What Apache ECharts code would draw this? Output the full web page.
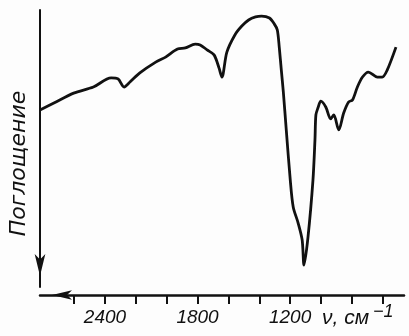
<!DOCTYPE html>
<html>
  <head>
    <meta charset="utf-8" />
    <title>Поглощение</title>
    <script src="https://cdn.jsdelivr.net/npm/echarts@6/dist/echarts.min.js"></script>
    <style>
      body {
        margin: 0;
        background: #fdfdfd;
      }
      #main {
        width: 409px;
        height: 336px;
      }
    </style>
  </head>
  <body>
    <div id="main"></div>
    <script type="text/javascript">
      // волновое число, см-1 (ось идёт справа налево)
      var wavenumber = [
        2821, 2731, 2603, 2475, 2360, 2315, 2276, 2238, 2174, 2071, 2007, 1930,
        1879, 1815, 1783, 1738, 1693, 1661, 1642, 1610, 1558, 1513, 1469, 1424,
        1385, 1334, 1302, 1283, 1270, 1257, 1244, 1225, 1199, 1180, 1148, 1122,
        1110, 1084, 1052, 1039, 1033, 1020, 1001, 969, 937, 917, 885, 853, 821,
        796, 764, 731, 693, 635, 603, 571, 514,
      ];
      // поглощение, усл. ед. (растёт вниз)
      var absorption = [
        36.1, 33.6, 30.0, 27.8, 24.5, 24.9, 27.8, 26.0, 22.7, 18.8, 17.0, 14.1,
        13.7, 12.3, 12.6, 14.4, 16.2, 20.9, 24.2, 15.2, 9.0, 5.8, 3.6, 2.5, 2.2,
        2.9, 5.1, 7.2, 13.7, 21.7, 29.6, 43.3, 61.4, 71.1, 76.9, 83.0, 92.1,
        81.9, 61.4, 46.9, 37.9, 35.4, 32.9, 35.0, 39.3, 37.9, 43.3, 37.2, 33.2,
        32.5, 27.8, 24.2, 22.4, 24.2, 24.2, 21.7, 13.4,
      ];
      var tickValues = [2600, 2400, 2200, 2000, 1800, 1600, 1400, 1200, 1000, 800, 600];
      var labelValues = [2400, 1800, 1200];

      var points = wavenumber.map(function (v, i) {
        return [v, absorption[i]];
      });

      var ink = "#111";
      var myChart = echarts.init(document.getElementById("main"));

      option = {
        backgroundColor: "#fdfdfd",
        animation: false,
        grid: { left: 36, right: 5, top: 10, bottom: 49 },
        xAxis: {
          type: "value",
          position: "bottom",
          inverse: true,
          min: 462,
          max: 2821,
          offset: 8,
          splitLine: { show: false },
          axisLine: {
            onZero: false,
            lineStyle: { color: ink, width: 2.5 },
            symbol: ["arrow", "none"],
            symbolSize: [7, 20],
            symbolOffset: [12, 0],
          },
          axisTick: {
            customValues: tickValues,
            length: 9,
            lineStyle: { color: ink, width: 2 },
          },
          axisLabel: {
            customValues: labelValues,
            formatter: function (v) {
              return String(v);
            },
            margin: 13,
            color: ink,
            fontSize: 19,
            fontStyle: "italic",
            fontFamily: "Liberation Sans",
          },
        },
        yAxis: {
          type: "value",
          inverse: true,
          min: 0,
          max: 100,
          name: "Поглощение",
          nameLocation: "middle",
          nameGap: 10,
          nameTextStyle: {
            color: ink,
            fontSize: 22,
            fontStyle: "italic",
            fontFamily: "DejaVu Sans",
            padding: [0, 30, 0, 0],
          },
          splitLine: { show: false },
          axisTick: { show: false },
          axisLabel: { show: false },
          axisLine: {
            lineStyle: { color: ink, width: 2 },
            symbol: ["arrow", "none"],
            symbolSize: [8, 22],
            symbolOffset: [11, 0],
          },
        },
        graphic: [
          {
            type: "text",
            left: 322,
            top: 303,
            style: {
              text: "{a|ν, см}{s|−1}",
              fill: ink,
              rich: {
                a: {
                  fontSize: 21,
                  fontStyle: "italic",
                  fontFamily: "Liberation Sans",
                  lineHeight: 26,
                  verticalAlign: "bottom",
                },
                s: {
                  fontSize: 18,
                  fontStyle: "italic",
                  fontFamily: "Liberation Sans",
                  verticalAlign: "top",
                  padding: [0, 0, 0, 4],
                },
              },
            },
          },
        ],
        series: [
          {
            type: "line",
            data: points,
            smooth: 0.3,
            symbol: "none",
            lineStyle: { color: ink, width: 2.8 },
          },
        ],
      };

      myChart.setOption(option);
    </script>
  </body>
</html>
